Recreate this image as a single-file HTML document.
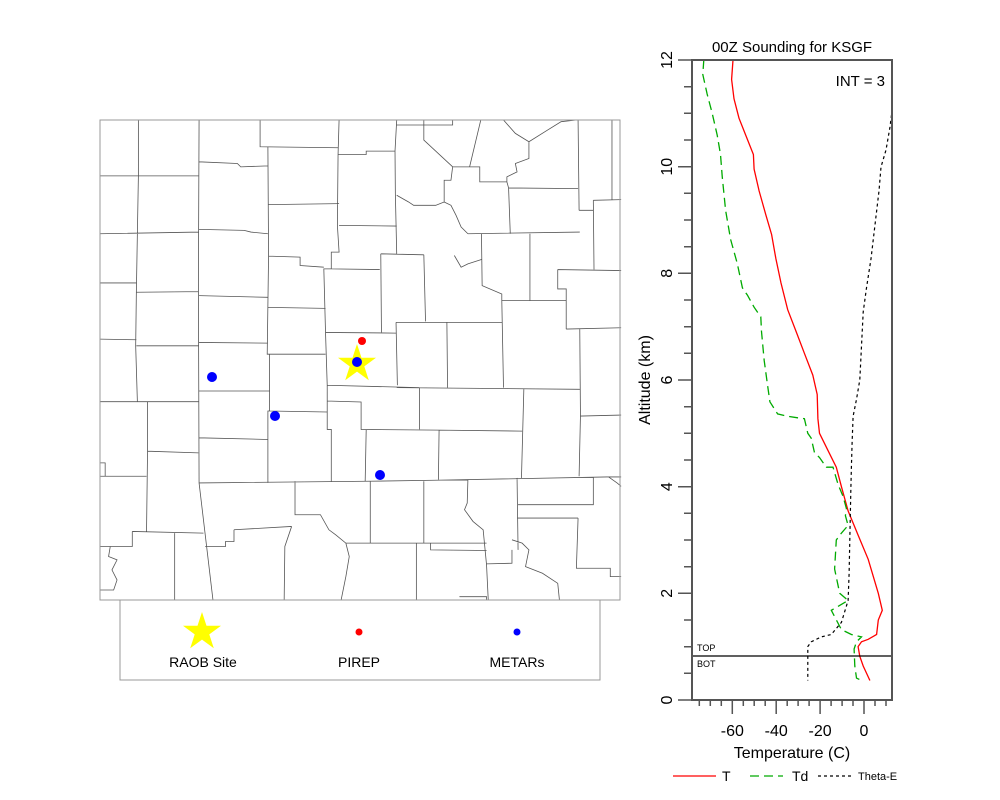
<!DOCTYPE html>
<html><head><meta charset="utf-8"><style>
html,body{margin:0;padding:0;background:#fff;}
svg{display:block;font-family:"Liberation Sans",Arial,sans-serif;}
</style></head><body>
<svg width="1000" height="800" viewBox="0 0 1000 800" xmlns="http://www.w3.org/2000/svg">
<rect width="1000" height="800" fill="#fff"/>
<!-- MAP -->
<g transform="translate(95,115) scale(0.339,0.3345)" fill="none" stroke="#555" stroke-width="0.8">
<path vector-effect="non-scaling-stroke" d="
M15,182 L305,182 M15,355 L305,350 M15,502 L122,502 M15,670 L122,672 M15,857 L305,857
M128,15 L128,182 L125,355 L122,530 L120,690 L125,857
M122,530 L305,528 M122,690 L305,690
M307,15 L305,500 L307,1100
M155,857 L155,1005 L152,1245 M155,1005 L305,1010
M15,1080 L152,1080 M110,1245 L320,1250 M110,1245 L110,1290 L15,1290
M235,1250 L235,1450 M307,1100 L348,1450
M15,1040 L30,1040 L30,1080
M45,1290 L40,1320 L65,1330 L50,1360 L65,1390 L55,1420 L15,1420
M307,140 L420,145 L430,155 L510,152 M307,342 L440,345 L460,350 L510,355 M307,540 L510,545 M307,680 L510,682 M307,825 L515,825 M307,965 L510,970
M510,95 L512,420 L508,715 L515,715 L515,885 L510,885 L510,1100
M487,15 L487,95 L717,98
M510,268 L720,265 M512,422 L605,425 L605,450 L675,455 M510,575 L680,578 M510,715 L680,715 M515,885 L685,888
M720,15 L717,118 L715,330 L720,410 L697,410 L697,460 L675,460 L680,650 L685,808 L685,855 L685,940 L697,940 L697,1095
M717,118 L800,118 L800,108 L885,108 M720,330 L890,332 M697,460 L840,462
M680,650 L888,652 M685,808 L957,815 M685,855 L785,858 L785,940 L1015,942 M800,940 L797,1095
M890,15 L885,108 L886,235 L890,415 M843,415 L970,418 M843,415 L845,650
M888,620 L1200,620 M888,620 L892,808 M970,418 L975,617 M1038,620 L1040,815
M890,815 L1430,820 M957,815 L957,940 M1015,942 L1013,1090 M1015,942 L1260,945
M307,1100 L800,1095 L1000,1092 L1510,1082 L1552,1082 M1265,820 L1258,1085
M1430,640 L1432,900 L1428,1080
M1200,555 L1205,815 M1140,355 L1142,510 L1200,535 L1200,555
M1200,555 L1390,555 M1390,640 L1552,636 M1365,462 L1552,465 M1100,355 L1430,350
M1220,218 L1425,220 M1425,15 L1428,285 M1470,255 L1472,462 M1470,255 L1552,253 M1525,15 L1525,255
M1428,285 L1470,285 M1283,355 L1283,555 M1365,462 L1365,520 L1390,520 L1390,640
M1432,900 L1552,897
M970,15 L970,75 L1055,155 L1135,155 L1135,200 L1215,200 L1220,218 L1225,355
M1105,155 L1138,15 M1205,15 L1240,55 L1280,80 L1335,45 L1375,20 L1420,15
M1280,80 L1280,130 L1240,145 L1245,170 L1215,185 L1215,200
M1055,155 L1050,195 L1030,195 L1030,260 L1005,270 L940,270 L925,260 L890,240
M890,30 L1055,30 L1055,15
M1030,260 L1050,270 L1065,300 L1080,335 L1100,355
M1060,420 L1080,455 L1100,445 L1140,432
M590,1095 L590,1195 L665,1195 L690,1240 L710,1255 L740,1280 L1155,1280
M812,1095 L812,1280 M970,1095 L970,1280 M948,1280 L948,1450 M740,1280 L750,1320 L740,1380 L726,1450
M1100,1090 L1098,1160 L1090,1180 L1115,1215 L1145,1240 L1155,1345 L1160,1450
M990,1280 L990,1300 L1155,1302 M1245,1085 L1248,1300 M1245,1205 L1425,1205
M1470,1082 L1470,1165 L1248,1165 M1425,1205 L1420,1355 L1520,1355 L1520,1380 L1552,1380
M1230,1300 L1230,1340 L1155,1342
M1230,1270 L1260,1280 L1280,1300 L1270,1350 L1320,1370 L1365,1400 L1370,1450
M580,1230 L560,1290 L558,1450 M410,1240 L580,1230 M410,1240 L410,1275 L385,1275 L385,1290 L325,1290
M1075,1440 L1155,1440 L1155,1450
M1515,1082 L1540,1100 L1552,1110
"/>
</g>
<rect x="100" y="120" width="520" height="480" fill="none" stroke="#999" stroke-width="1"/>
<!-- markers -->
<polygon points="357,344 361.5,357.8 376,357.8 364.3,366.4 368.8,380.2 357,371.6 345.2,380.2 349.7,366.4 338,357.8 352.5,357.8" fill="#ffff00"/>
<circle cx="362" cy="341" r="4" fill="#ff0000"/>
<circle cx="357" cy="362" r="5" fill="#0000ff"/>
<circle cx="212" cy="377" r="5" fill="#0000ff"/>
<circle cx="275" cy="416" r="5" fill="#0000ff"/>
<circle cx="380" cy="475" r="5" fill="#0000ff"/>
<!-- legend -->
<rect x="120" y="600" width="480" height="80" fill="none" stroke="#999" stroke-width="1"/>
<polygon points="202,612 206.5,625.8 221,625.8 209.3,634.4 213.8,648.2 202,639.6 190.2,648.2 194.7,634.4 183,625.8 197.5,625.8" fill="#ffff00"/>
<circle cx="359" cy="632" r="3.5" fill="#ff0000"/>
<circle cx="517" cy="632" r="3.5" fill="#0000ff"/>
<g font-size="14" text-anchor="middle" fill="#000">
<text x="203" y="667">RAOB Site</text>
<text x="359" y="667">PIREP</text>
<text x="517" y="667">METARs</text>
</g>
<!-- SOUNDING -->
<text x="792" y="52" font-size="15" text-anchor="middle">00Z Sounding for KSGF</text>
<text x="885" y="86" font-size="15" text-anchor="end">INT = 3</text>
<defs><clipPath id="c"><rect x="692" y="60" width="200" height="640"/></clipPath></defs>
<g clip-path="url(#c)" fill="none">
<polyline stroke="#ff0000" stroke-width="1.3" points="733,60 731.6,79.4 734,98.8 739,118.2 745.7,135.1 753.4,154.5 754.1,169.1 759.1,190.9 765.9,215.1 771.6,234.5 775.9,258.8 781,283 787.7,309.7 796.1,331.5 804.4,353.3 812.8,375.1 817.2,394.5 817.9,418.7 819.5,433.3 827.9,450.3 836.3,467.2 841.4,486.6 848.1,510.9 858.1,535.1 868.2,559.3 878.3,593.3 882.3,610.3 878.3,620 876.6,634.5 868.2,639.3 861.5,641.8 858.1,646.6 859.8,656.3 863.2,666 869.9,680.5"/>
<polyline stroke="#00aa00" stroke-width="1.3" stroke-dasharray="9,5" points="703.8,60 702.8,74.5 707.1,93.9 712.2,113.3 717.2,135.1 720.5,154.5 722.2,176.3 725.6,210.3 730.6,239.4 737.3,263.6 742.4,287.8 747.4,295.1 754.1,307.2 760.8,316.9 761.5,331.5 764.2,360.6 767.5,384.8 769.9,401.8 777.6,413.9 787.7,416.3 797.7,417.8 804.4,418.7 807.8,433.3 811.2,438.1 814.5,452.7 819.5,457.5 826.3,467.2 833,467.2 838,484.2 843,496.3 846.4,508.4 845.4,515.7 848.1,525.4 839.7,535.1 836.3,540 834.6,569 839.7,593.3 848.1,600.5 831.3,610.3 841.4,629.6 851.4,634.5 861.5,636.9 856.5,641.8 854.1,649 854.8,666 856.5,678.1 861.5,680.5"/>
<polyline stroke="#000" stroke-width="1.2" stroke-dasharray="3,3" points="893,103 890,127 886,150 881,167 879,190.9 875,224.8 871,258.8 866.5,287.8 863.2,312.1 861.5,346 859.8,379.9 856.5,399.3 853.1,416.3 852.1,443 851.4,467.2 850.8,491.5 849.8,540 849.1,573.9 848.1,600.5 841.4,622.4 831.3,634.5 821.2,636.9 811.2,641.8 807.8,646.6 807.8,680.5"/>
</g>
<line x1="692" y1="656" x2="892" y2="656" stroke="#000" stroke-width="1.2"/>
<text x="697" y="651" font-size="9">TOP</text>
<text x="697" y="667" font-size="9">BOT</text>
<rect x="692" y="60" width="200" height="640" fill="none" stroke="#555" stroke-width="2"/>
<!-- ticks -->
<g stroke="#555" stroke-width="1.5">
<path d="M678,700H692M678,593.3H692M678,486.7H692M678,380H692M678,273.3H692M678,166.7H692M678,60H692
M684,673.3H692M684,646.7H692M684,620H692M684,566.7H692M684,540H692M684,513.3H692M684,460H692M684,433.3H692M684,406.7H692M684,353.3H692M684,326.7H692M684,300H692M684,246.7H692M684,220H692M684,193.3H692M684,140H692M684,113.3H692M684,86.7H692"/>
<path d="M732.3,700V714M776.2,700V714M820.1,700V714M864,700V714
M699.3,700V706M710.3,700V706M721.3,700V706M743.3,700V706M754.2,700V706M765.2,700V706M787.2,700V706M798.1,700V706M809.1,700V706M831.1,700V706M842.1,700V706M853,700V706M875,700V706M886,700V706"/>
</g>
<g font-size="16" text-anchor="middle">
<text transform="translate(672,700) rotate(-90)">0</text>
<text transform="translate(672,593.3) rotate(-90)">2</text>
<text transform="translate(672,486.7) rotate(-90)">4</text>
<text transform="translate(672,380) rotate(-90)">6</text>
<text transform="translate(672,273.3) rotate(-90)">8</text>
<text transform="translate(672,166.7) rotate(-90)">10</text>
<text transform="translate(672,60) rotate(-90)">12</text>
<text transform="translate(650,380) rotate(-90)">Altitude (km)</text>
<text x="732.3" y="736">-60</text>
<text x="776.2" y="736">-40</text>
<text x="820.1" y="736">-20</text>
<text x="864" y="736">0</text>
<text x="792" y="758">Temperature (C)</text>
</g>
<!-- bottom legend -->
<line x1="673" y1="776" x2="716" y2="776" stroke="#ff0000" stroke-width="1.3"/>
<text x="722" y="781" font-size="14">T</text>
<line x1="750" y1="776" x2="783" y2="776" stroke="#00aa00" stroke-width="1.3" stroke-dasharray="9,5"/>
<text x="792" y="781" font-size="14">Td</text>
<line x1="818" y1="776" x2="852" y2="776" stroke="#000" stroke-width="1.2" stroke-dasharray="3,3"/>
<text x="858" y="780" font-size="11">Theta-E</text>
</svg>
</body></html>
